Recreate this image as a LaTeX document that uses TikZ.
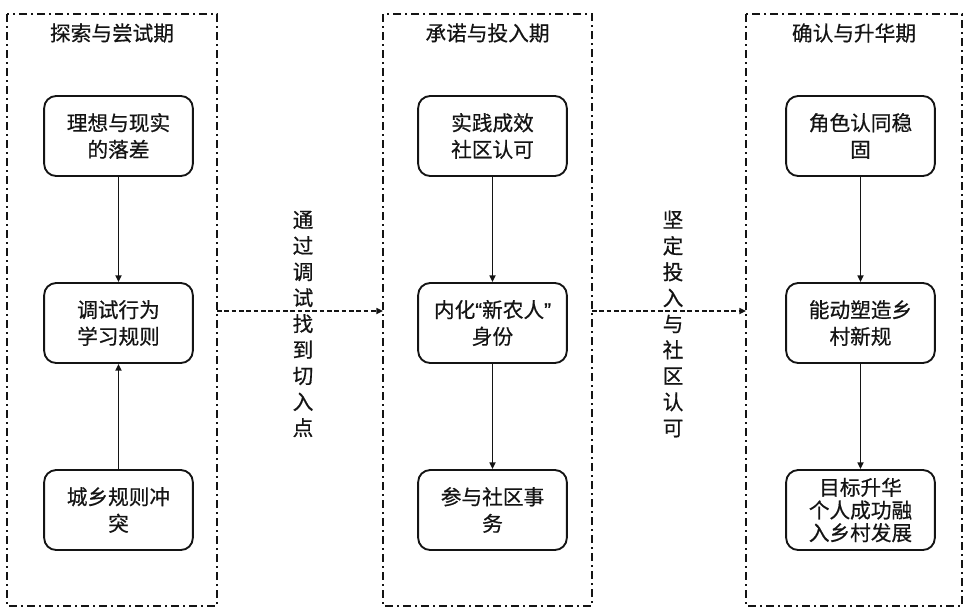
\documentclass[tikz,border=0pt]{standalone}
\usepackage{fontspec}
\setmainfont{Noto Sans CJK SC}[FakeBold=0.6]
\newfontfamily\latq{Liberation Sans}[FakeBold=0.6]
\usetikzlibrary{arrows.meta}
\definecolor{ink}{HTML}{141414}
\tikzset{
  stagebox/.style={draw=ink, line width=1.6pt, dash pattern=on 6pt off 3pt on 1.5pt off 3pt},
  stepbox/.style={draw=ink, line width=1.4pt, rounded corners=9pt, minimum width=111.5pt, minimum height=60pt, align=center, inner sep=2pt, text=ink, font=\fontsize{15.5}{20}\selectfont},
  titletext/.style={text=ink, font=\fontsize{15.5}{19}\selectfont, inner sep=0pt},
  vlabel/.style={text=ink, align=center, inner sep=0pt, font=\fontsize{15.5}{19.5}\selectfont},
  flow/.style={draw=ink, line width=1.2pt, -{Triangle[length=5pt,width=4.5pt]}},
  jump/.style={draw=ink, line width=1.2pt, dash pattern=on 3.5pt off 2pt, -{Triangle[length=5pt,width=4.5pt]}}
}
\begin{document}
\begin{tikzpicture}[x=0.75pt,y=-0.75pt]
\useasboundingbox (0,0) rectangle (963,612);
% containers
\draw[stagebox] (7,14) rectangle (217,606);
\draw[stagebox] (383,14) rectangle (592,606);
\draw[stagebox] (746,14) rectangle (962,606);
\coordinate (c1e) at (217,311);
\coordinate (c2w) at (383,311);
\coordinate (c2e) at (592,311);
\coordinate (c3w) at (746,311);
% titles
\node[titletext] (t1) at (112,33) {探索与尝试期};
\node[titletext] (t2) at (487.5,33) {承诺与投入期};
\node[titletext] (t3) at (854,33) {确认与升华期};
% left column
\node[stepbox] (a1) at (118.5,136) {理想与现实\\的落差};
\node[stepbox] (a2) at (118.5,323) {调试行为\\学习规则};
\node[stepbox] (a3) at (118.5,510) {城乡规则冲\\突};
% middle column
\node[stepbox] (b1) at (492.5,136) {实践成效\\社区认可};
\node[stepbox] (b2) at (492.5,323) {内化{\latq “}新农人{\latq ”}\\身份};
\node[stepbox] (b3) at (492.5,510) {参与社区事\\务};
% right column
\node[stepbox] (r1) at (860.5,136) {角色认同稳\\固};
\node[stepbox] (r2) at (860.5,323) {能动塑造乡\\村新规};
\node[stepbox, font=\fontsize{15.5}{17}\selectfont] (r3) at (860.5,510) {目标升华\\个人成功融\\入乡村发展};
% arrows
\draw[flow] (a1) -- (a2);
\draw[flow] (a3) -- (a2);
\draw[flow] (b1) -- (b2);
\draw[flow] (b2) -- (b3);
\draw[flow] (r1) -- (r2);
\draw[flow] (r2) -- (r3);
\draw[jump] (c1e) -- (c2w);
\draw[jump] (c2e) -- (c3w);
% vertical labels
\node[vlabel] (l1) at (303,324) {通\\过\\调\\试\\找\\到\\切\\入\\点};
\node[vlabel] (l2) at (673,324) {坚\\定\\投\\入\\与\\社\\区\\认\\可};
\end{tikzpicture}
\end{document}
